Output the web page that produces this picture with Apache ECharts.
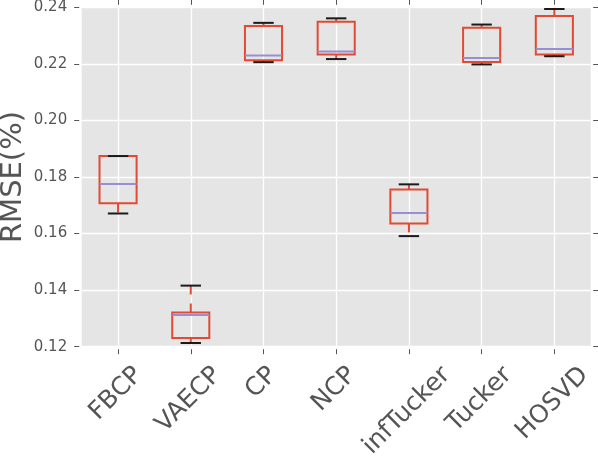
<!DOCTYPE html>
<html>
<head>
<meta charset="utf-8">
<script src="https://cdn.jsdelivr.net/npm/echarts@6/dist/echarts.min.js"></script>
<style>html,body{margin:0;padding:0;background:#fff}#c{width:598px;height:472px}</style>
</head>
<body>
<div id="c"></div>
<script>
const categories = ['FBCP', 'VAECP', 'CP', 'NCP', 'infTucker', 'Tucker', 'HOSVD'];
const whiskerLow  = [0.1671, 0.1213, 0.2206, 0.2217, 0.1591, 0.2198, 0.2227];
const q1          = [0.1707, 0.1231, 0.2213, 0.2233, 0.1636, 0.2207, 0.2233];
const median      = [0.1775, 0.1312, 0.2230, 0.2244, 0.1673, 0.2221, 0.2253];
const q3          = [0.1874, 0.1321, 0.2334, 0.2349, 0.1756, 0.2328, 0.2369];
const whiskerHigh = [0.1874, 0.1416, 0.2345, 0.2361, 0.1774, 0.2339, 0.2394];
const yTicks = [0.12, 0.14, 0.16, 0.18, 0.20, 0.22, 0.24];

const Y_MIN = yTicks[0], Y_MAX = yTicks[yTicks.length - 1];
const LABEL_FONT = 25;
const FONT = '"DejaVu Sans", sans-serif';
const boxData = categories.map((c, i) => [i, whiskerLow[i], q1[i], median[i], q3[i], whiskerHigh[i]]);

const measureCtx = document.createElement('canvas').getContext('2d');
measureCtx.font = LABEL_FONT + 'px ' + FONT;

const chart = echarts.init(document.getElementById('c'), null, {renderer: 'canvas'});
const tickStyle = {show: true, length: 5, inside: false, lineStyle: {color: '#555', width: 1}};

chart.setOption({
  backgroundColor: '#ffffff',
  animation: false,
  grid: {left: 81.7, right: 7.3, top: 7.3, bottom: 125.3, show: true, backgroundColor: '#E5E5E5',
    borderWidth: 0, containLabel: false, outerBoundsMode: 'none'},
  xAxis: [{
    type: 'category', data: categories, boundaryGap: true, position: 'bottom', offset: 2.5,
    axisLine: {show: false},
    axisTick: Object.assign({alignWithLabel: true}, tickStyle),
    axisLabel: {show: false},
    splitLine: {show: true, alignWithLabel: true, lineStyle: {color: '#ffffff', width: 1.3}}
  }, {
    type: 'category', data: categories, boundaryGap: true, position: 'top', offset: 2.5,
    axisLine: {show: false},
    axisTick: Object.assign({alignWithLabel: true}, tickStyle),
    axisLabel: {show: false}, splitLine: {show: false}
  }],
  yAxis: [{
    type: 'value', min: Y_MIN, max: Y_MAX, interval: 0.02, position: 'left', offset: 2.5,
    name: 'RMSE(%)', nameLocation: 'middle', nameGap: 51, nameMoveOverlap: false,
    nameTextStyle: {fontSize: 29, color: '#555', fontFamily: FONT},
    axisLine: {show: false}, axisTick: tickStyle,
    axisLabel: {margin: 12, fontSize: 15, color: '#555', fontFamily: FONT, formatter: v => v.toFixed(2)},
    splitLine: {show: true, lineStyle: {color: '#ffffff', width: 1.3}}
  }, {
    type: 'value', min: Y_MIN, max: Y_MAX, interval: 0.02, position: 'right', offset: 2.5,
    axisLine: {show: false}, axisTick: tickStyle, axisLabel: {show: false}, splitLine: {show: false}
  }],
  series: [{
    type: 'custom',
    xAxisIndex: 0, yAxisIndex: 0,
    data: boxData,
    clip: false,
    renderItem: function (params, api) {
      const x = api.value(0);
      const band = api.size([1, 0])[0];
      const boxW = band * 0.51;
      const capW = boxW * 0.55;
      const pLo = api.coord([x, api.value(1)]);
      const pQ1 = api.coord([x, api.value(2)]);
      const pMed = api.coord([x, api.value(3)]);
      const pQ3 = api.coord([x, api.value(4)]);
      const pHi = api.coord([x, api.value(5)]);
      const cx = pMed[0];
      const red = '#E24A33';
      const children = [];
      children.push({type: 'line', shape: {x1: cx, y1: pQ3[1], x2: cx, y2: pHi[1]},
        style: {stroke: red, lineWidth: 2, lineDash: [9, 9]}});
      children.push({type: 'line', shape: {x1: cx, y1: pQ1[1], x2: cx, y2: pLo[1]},
        style: {stroke: red, lineWidth: 2, lineDash: [9, 9]}});
      children.push({type: 'rect', shape: {x: cx - boxW / 2, y: pQ3[1], width: boxW, height: pQ1[1] - pQ3[1]},
        style: {fill: null, stroke: red, lineWidth: 2}});
      children.push({type: 'line', shape: {x1: cx - boxW / 2, y1: pMed[1], x2: cx + boxW / 2, y2: pMed[1]},
        style: {stroke: '#988ED5', lineWidth: 2}});
      children.push({type: 'line', shape: {x1: cx - capW / 2, y1: pHi[1], x2: cx + capW / 2, y2: pHi[1]},
        style: {stroke: '#1a1a1a', lineWidth: 2}});
      children.push({type: 'line', shape: {x1: cx - capW / 2, y1: pLo[1], x2: cx + capW / 2, y2: pLo[1]},
        style: {stroke: '#1a1a1a', lineWidth: 2}});
      return {type: 'group', children: children};
    }
  }, {
    type: 'custom',
    xAxisIndex: 0, yAxisIndex: 0,
    data: categories.map((c, i) => [i, Y_MIN]),
    clip: false, silent: true,
    renderItem: function (params, api) {
      const i = api.value(0);
      const p = api.coord([i, Y_MIN]);
      const text = categories[i];
      const w = measureCtx.measureText(text).width;
      const h = LABEL_FONT * 0.74;
      const half = (w + h) * 0.7071 / 2;
      return {
        type: 'text',
        x: p[0] - 2,
        y: p[1] + 18 + half,
        rotation: Math.PI / 4,
        style: {text: text, fontSize: LABEL_FONT, fontFamily: FONT, fill: '#555',
          align: 'center', verticalAlign: 'middle'}
      };
    }
  }]
});
</script>
</body>
</html>
